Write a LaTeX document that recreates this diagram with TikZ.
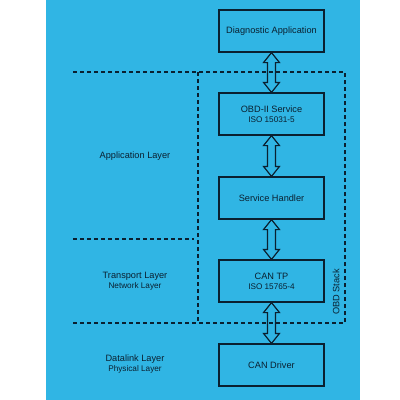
\documentclass[tikz,border=0pt]{standalone}
\usepackage{fontspec}
\setmainfont{Liberation Sans}
\usetikzlibrary{calc}
\definecolor{bgblue}{RGB}{48,181,228}
\definecolor{ink}{RGB}{10,32,48}
\tikzset{
  box/.style={draw=ink, line width=1.2pt, minimum width=105pt, minimum height=42pt, inner sep=0pt, align=center, text=ink, font=\fontsize{9.2}{11}\selectfont},
  lbl/.style={align=center, text=ink, font=\fontsize{9.2}{11}\selectfont},
  layerline/.style={draw=ink, line width=1.5pt, dash pattern=on 4pt off 3pt},
  arr/.style={draw=ink, line width=1.2pt, line join=miter}
}
\newcommand{\sub}[1]{{\fontsize{8.2}{10}\selectfont #1}}
\newcommand{\dblarrow}[2]{%
  \draw[arr] let \p1=(#1.south), \p2=(#2.north) in
    (\x1,\y1) -- (\x1+8pt,\y1-10pt) -- (\x1+4pt,\y1-10pt) -- (\x1+4pt,\y2+10pt)
    -- (\x1+8pt,\y2+10pt) -- (\x2,\y2) -- (\x1-8pt,\y2+10pt) -- (\x1-4pt,\y2+10pt)
    -- (\x1-4pt,\y1-10pt) -- (\x1-8pt,\y1-10pt) -- cycle;}
\begin{document}
\begin{tikzpicture}[x=1pt,y=-1pt]
\useasboundingbox (0,0) rectangle (400,400);
\fill[bgblue] (46,0) rectangle (360,400);
% boxes
\node[box] (diag) at (271.5,31) {Diagnostic Application};
\node[box] (obd) at (271.5,114) {OBD-II Service\\[-1pt]\sub{ISO 15031-5}};
\node[box] (sh) at (271.5,198) {Service Handler};
\node[box] (cantp) at (271.5,281) {CAN TP\\[-1pt]\sub{ISO 15765-4}};
\node[box] (cand) at (271.5,365) {CAN Driver};
% OBD stack dashed box
\coordinate (stTL) at (198,72);
\coordinate (stBR) at (345,323);
\draw[layerline] (stTL) rectangle (stBR);
\node[lbl, rotate=90] (stack) at (336,292) {OBD Stack};
% layer lines
\coordinate (l1a) at (73,72);
\coordinate (l2a) at (73,239);
\coordinate (l2b) at (194,239);
\coordinate (l3a) at (73,323);
\draw[layerline] (l1a) -- (stTL);
\draw[layerline] (l2a) -- (l2b);
\draw[layerline] (l3a) -- (stTL |- stBR);
% layer labels
\node[lbl] (app) at (135,156) {Application Layer};
\node[lbl] (trans) at (135,281) {Transport Layer\\[-1pt]\sub{Network Layer}};
\node[lbl] (dl) at (135,364) {Datalink Layer\\[-1pt]\sub{Physical Layer}};
% arrows
\dblarrow{diag}{obd}
\dblarrow{obd}{sh}
\dblarrow{sh}{cantp}
\dblarrow{cantp}{cand}
\end{tikzpicture}
\end{document}
